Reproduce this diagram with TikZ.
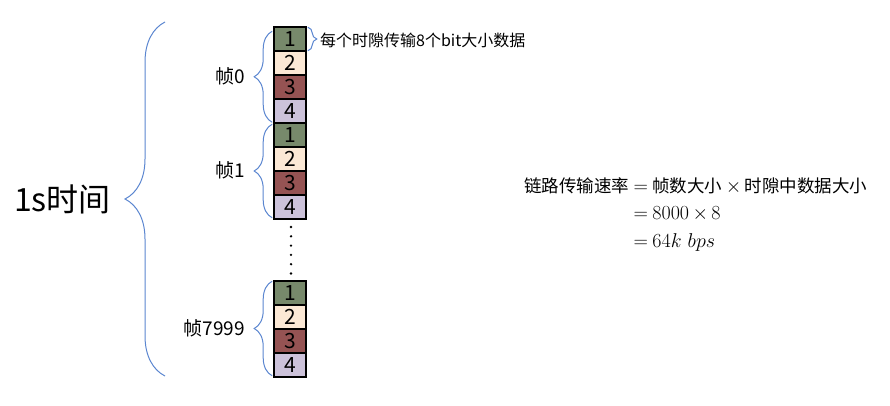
\RequirePackage{fix-cm}
\documentclass[tikz,border=0pt]{standalone}
\usepackage{amsmath}
\usepackage{fontspec}
\newfontfamily\cjk{Noto Sans CJK SC}
\usetikzlibrary{decorations.pathreplacing}

\definecolor{slotgreen}{HTML}{77896B}
\definecolor{slotpeach}{HTML}{FBE8D5}
\definecolor{slotred}{HTML}{955353}
\definecolor{slotlilac}{HTML}{CCC2DA}
\definecolor{braceblue}{HTML}{5B86D0}

\newcommand\eqcjk[1]{\text{\cjk\fontsize{17.5}{20}\selectfont #1}}

\tikzset{
  slot/.style={draw, line width=1.6pt, minimum width=32pt, minimum height=24pt,
    inner sep=0pt, font=\cjk\fontsize{21}{21}\selectfont},
  bluebrace/.style={draw=braceblue, line width=1pt, decorate,
    decoration={brace, amplitude=#1}},
  framelabel/.style={anchor=east, inner sep=0pt, font=\cjk\fontsize{19}{19}\selectfont},
}

\begin{document}
\begin{tikzpicture}[x=1pt,y=-1pt]
\useasboundingbox (0,0) rectangle (890,406);
% time slots of each frame
\foreach \f/\top in {0/27,1/123,7999/281}
  \foreach \n/\c in {1/slotgreen,2/slotpeach,3/slotred,4/slotlilac}
    \node[slot, fill=\c] (f\f-\n) at (290,\top+24*\n-12) {\n};
% dots between frame 1 and frame 7999
\foreach \k in {0,...,5}
  \fill (291,{227+9.3*\k}) circle (1.3pt);
% frame braces and labels
\draw[bluebrace=18pt] ([xshift=-1pt,yshift=1.5pt]f0-4.south west) -- ([xshift=-1pt,yshift=-5pt]f0-1.north west);
\draw[bluebrace=18pt] ([xshift=-1pt,yshift=2pt]f1-4.south west) -- ([xshift=-1pt,yshift=-2pt]f1-1.north west);
\draw[bluebrace=18pt] ([xshift=-1pt,yshift=2pt]f7999-4.south west) -- ([xshift=-1pt,yshift=-1pt]f7999-1.north west);
\node[framelabel] (lab0) at (245,76) {帧0};
\node[framelabel] (lab1) at (245,170) {帧1};
\node[framelabel] (lab7999) at (245,328) {帧7999};
% one slot
\draw[bluebrace=9pt] ([xshift=1pt,yshift=-1pt]f0-1.north east) -- ([xshift=1pt,yshift=1pt]f0-1.south east);
\node[anchor=west, inner sep=0pt, font=\cjk\fontsize{16}{16}\selectfont] (slotnote) at (320,40) {每个时隙传输8个bit大小数据};
% whole second
\draw[bluebrace=40pt] (165,376) -- (165,22);
\node[anchor=east, inner sep=0pt, font=\cjk\fontsize{32}{32}\selectfont] (onesec) at (111,199) {1s时间};
% link rate
\node[anchor=west, inner sep=0pt, font=\fontsize{20}{24}\selectfont] (rate) at (524,215)
  {$\jot=3.5pt\medmuskip=3mu\thickmuskip=4mu\begin{aligned}
    \eqcjk{链路传输速率} &= \eqcjk{帧数大小}\times\eqcjk{时隙中数据大小}\\
    &= 8000\times 8\\
    &= 64k\ bps
  \end{aligned}$};
\end{tikzpicture}
\end{document}
